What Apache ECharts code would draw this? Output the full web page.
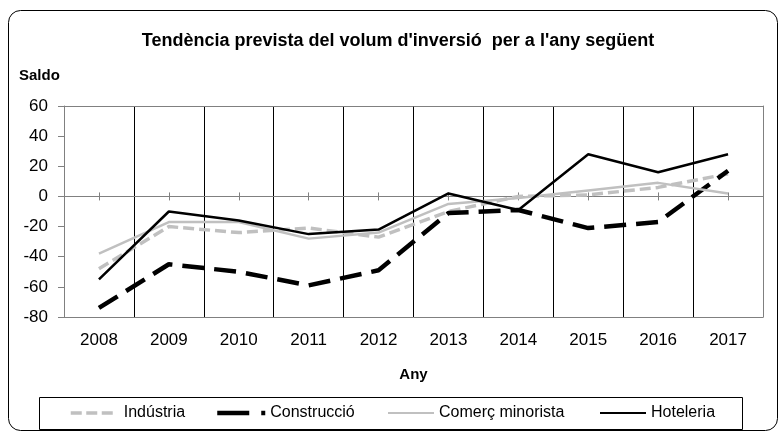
<!DOCTYPE html>
<html>
<head>
<meta charset="utf-8">
<script src="https://cdn.jsdelivr.net/npm/echarts@6/dist/echarts.min.js"></script>
<style>html,body{margin:0;padding:0;background:#fff;}#c{width:780px;height:432px;}</style>
</head>
<body>
<div id="c"></div>
<script>
const years = ['2008','2009','2010','2011','2012','2013','2014','2015','2016','2017'];
const industria   = [-48, -20, -24, -21, -27, -10, 0, 1, 6, 15];
const construccio = [-74, -45, -50, -59, -49, -11, -9, -21, -17, 17];
const comerc      = [-38, -17, -17, -28, -24, -5, -1, 4, 9, 2];
const hoteleria   = [-55, -10, -16, -25, -22, 2, -9, 28, 16, 28];
const yTicks = {min: -80, max: 60, interval: 20};
const names = ['Indústria', 'Construcció', 'Comerç minorista', 'Hoteleria'];

const FONT = 'Arial, "Liberation Sans", sans-serif';
const GRAY = '#808080';
const chart = echarts.init(document.getElementById('c'), null, {renderer: 'canvas'});

const hiddenSymbol = {color: 'transparent', borderColor: 'transparent', borderWidth: 0, opacity: 0};
const legendBase = {
  orient: 'horizontal', top: 405, itemHeight: 14, padding: 0,
  textStyle: {fontFamily: FONT, fontSize: 16, color: '#000'},
  itemStyle: hiddenSymbol,
  selectedMode: false
};

chart.setOption({
  animation: false,
  backgroundColor: '#fff',
  title: [
    {text: 'Tendència prevista del volum d\'inversió  per a l\'any següent', left: 398, textAlign: 'center', top: 32, padding: 0,
     textStyle: {fontFamily: FONT, fontSize: 18, fontWeight: 'bold', color: '#000'}},
    {text: 'Saldo', left: 19, top: 68, padding: 0,
     textStyle: {fontFamily: FONT, fontSize: 15, fontWeight: 'bold', color: '#000'}}
  ],
  graphic: [
    {type: 'rect', shape: {x: 8.5, y: 10.5, width: 769, height: 420, r: 12}, style: {fill: null, stroke: '#000', lineWidth: 1}, silent: true, z: -1},
    {type: 'rect', shape: {x: 39.5, y: 397.5, width: 703, height: 32}, style: {fill: null, stroke: '#000', lineWidth: 1}, silent: true, z: -1}
  ],
  legend: [
    Object.assign({}, legendBase, {left: 69, itemWidth: 44, data: [{name: names[0], itemStyle: hiddenSymbol, lineStyle: {type: [11, 4.5], width: 3.5}}], textStyle: Object.assign({}, legendBase.textStyle, {padding: [0,0,0,4]})}),
    Object.assign({}, legendBase, {left: 215, itemWidth: 48, data: [{name: names[1], itemStyle: hiddenSymbol, lineStyle: {type: [32, 12], width: 4.5}}]}),
    Object.assign({}, legendBase, {left: 387, itemWidth: 46, data: [{name: names[2], itemStyle: hiddenSymbol}]}),
    Object.assign({}, legendBase, {left: 599, itemWidth: 46, data: [{name: names[3], itemStyle: hiddenSymbol}]})
  ],
  grid: {left: 64, right: 17, top: 106, bottom: 115, containLabel: false},
  xAxis: [
    {type: 'category', data: years, position: 'bottom', boundaryGap: true,
     axisLine: {show: true, onZero: false, lineStyle: {color: GRAY, width: 1}},
     axisTick: {show: false},
     axisLabel: {fontFamily: FONT, fontSize: 17, color: '#000', margin: 15},
     splitLine: {show: true, lineStyle: {color: '#000', width: 1}},
     name: 'Any', nameLocation: 'middle', nameGap: 50,
     nameTextStyle: {fontFamily: FONT, fontSize: 15, fontWeight: 'bold', color: '#000'}},
    {type: 'category', data: years, position: 'top', boundaryGap: true,
     axisLine: {show: true, onZero: false, lineStyle: {color: GRAY, width: 1}},
     axisTick: {show: false}, axisLabel: {show: false}, splitLine: {show: false}},
    {type: 'category', data: years, position: 'bottom', boundaryGap: true,
     axisLine: {show: true, onZero: true, lineStyle: {color: GRAY, width: 1}},
     axisTick: {show: true, alignWithLabel: true, inside: false, length: 4, lineStyle: {color: GRAY}},
     axisLabel: {show: false}, splitLine: {show: false}},
    {type: 'category', data: years, position: 'bottom', boundaryGap: true,
     axisLine: {show: false, onZero: true},
     axisTick: {show: true, alignWithLabel: true, inside: true, length: 4, lineStyle: {color: GRAY}},
     axisLabel: {show: false}, splitLine: {show: false}}
  ],
  yAxis: [
    {type: 'value', min: yTicks.min, max: yTicks.max, interval: yTicks.interval, position: 'left', z: 1,
     axisLine: {show: true, lineStyle: {color: GRAY, width: 1}},
     axisTick: {show: true, length: 6, lineStyle: {color: GRAY}},
     axisLabel: {fontFamily: FONT, fontSize: 17, color: '#000', margin: 16},
     splitLine: {show: false}},
    {type: 'value', min: yTicks.min, max: yTicks.max, interval: yTicks.interval, position: 'right', z: 1,
     axisLine: {show: true, lineStyle: {color: GRAY, width: 1}},
     axisTick: {show: false}, axisLabel: {show: false}, splitLine: {show: false}}
  ],
  series: [
    {name: names[0], type: 'line', data: industria, symbol: 'none', z: 3,
     itemStyle: {color: '#c0c0c0'},
     lineStyle: {color: '#c0c0c0', width: 3.5, type: [11, 5]}},
    {name: names[1], type: 'line', data: construccio, symbol: 'none', z: 4,
     itemStyle: {color: '#000'},
     lineStyle: {color: '#000', width: 4.5, type: [22, 10]}},
    {name: names[2], type: 'line', data: comerc, symbol: 'none', z: 5,
     itemStyle: {color: '#c0c0c0'},
     lineStyle: {color: '#c0c0c0', width: 2.5}},
    {name: names[3], type: 'line', data: hoteleria, symbol: 'none', z: 6,
     itemStyle: {color: '#000'},
     lineStyle: {color: '#000', width: 2.5}}
  ]
});
</script>
</body>
</html>
